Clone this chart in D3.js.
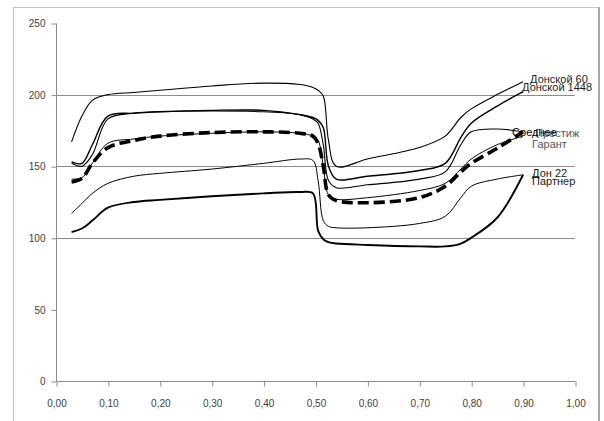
<!DOCTYPE html>
<html>
<head>
<meta charset="utf-8">
<script src="https://cdn.jsdelivr.net/npm/d3@7"></script>
<style>
  body { margin: 0; background: #fff; }
  text { font-family: "Liberation Sans", Arial, sans-serif; }
</style>
</head>
<body>
<svg id="chart" width="604" height="421"></svg>
<script>
// Measurement points along the x axis (shared by every series)
const xValues = [0.03, 0.05, 0.07, 0.10, 0.15, 0.20, 0.30, 0.40, 0.47, 0.495, 0.505,
                 0.515, 0.525, 0.54, 0.60, 0.70, 0.75, 0.78, 0.80, 0.85, 0.90];

// Series values
const donskoy60   = [167, 185, 196, 200, 201.5, 203, 206, 208, 207, 205, 203,
                     199, 168, 150, 155, 163, 171, 184, 190, 200, 209];
const donskoy1448 = [153, 152, 165, 185, 187, 188, 189, 189, 186, 184, 182,
                     177, 150, 141, 143, 147, 152, 170, 180, 192, 202];
const prestige    = [152, 150, 158, 183, 187, 188, 188.5, 188, 186, 183, 180,
                     165, 140, 135, 137, 141, 146, 165, 174, 176, 174];
const garant      = [141, 142, 152, 166, 169, 171, 173, 174, 173, 171, 168,
                     150, 130, 127, 128, 133, 138, 148, 155, 165, 171];
const don22       = [117, 124, 131, 138, 143, 145, 148, 152, 155, 154, 140,
                     112, 108, 107, 107, 110, 115, 128, 136, 141, 144];
const partner     = [104, 106.5, 112, 121, 125, 126.5, 129, 131, 132, 131, 105,
                     99, 97, 96, 95, 94, 94, 96, 100, 114, 144];
const average     = [139, 141.5, 152, 163, 168, 171, 173.5, 174, 173, 171, 166,
                     150, 130, 126, 124.5, 128, 136, 146, 152, 162.5, 174];

const seriesNames = ["Донской 60", "Донской 1448", "Престиж", "Гарант", "Дон 22", "Партнер", "Среднее"];
const seriesValues = [donskoy60, donskoy1448, prestige, garant, don22, partner, average];

// Axis ticks
const yTicks = [0, 50, 100, 150, 200, 250];
const xTicks = [0, 0.1, 0.2, 0.3, 0.4, 0.5, 0.6, 0.7, 0.8, 0.9, 1.0];
const gridValues = [100, 150, 200];

// Line styles per series
const lineStyle = {
  "Донской 60":   { width: 1.1 },
  "Донской 1448": { width: 1.4 },
  "Престиж":      { width: 1.1 },
  "Гарант":       { width: 1.0 },
  "Дон 22":       { width: 1.0 },
  "Партнер":      { width: 1.9 },
  "Среднее":      { width: 3.6, dash: "11,5" }
};
// End-of-line label placement (offset from the last point)
const labelOffset = {
  "Донской 60":   [7, 1],
  "Донской 1448": [-1, -1],
  "Престиж":      [12, 5],
  "Гарант":       [9, 12],
  "Среднее":      [-11, 4],
  "Дон 22":       [9, 2],
  "Партнер":      [9, 10]
};
const labelColor = {
  "Престиж": "#555", "Гарант": "#555", "Среднее": "#000"
};

const svg = d3.select("#chart");

const x = d3.scaleLinear().domain([0, 1]).range([56, 575]);
const y = d3.scaleLinear().domain([0, 250]).range([381, 23]);

// Outer chart frame
svg.append("rect")
  .attr("x", 13.5).attr("y", 7.5)
  .attr("width", 585).attr("height", 430)
  .attr("fill", "none").attr("stroke", "#c4c4c4").attr("stroke-width", 1);
svg.append("line")
  .attr("x1", 599).attr("x2", 599).attr("y1", 7).attr("y2", 421)
  .attr("stroke", "#a8a8a8").attr("stroke-width", 2);

// Horizontal gridlines
svg.append("g").selectAll("line").data(gridValues).join("line")
  .attr("x1", x(0)).attr("x2", x(1))
  .attr("y1", d => Math.round(y(d)) + 0.5).attr("y2", d => Math.round(y(d)) + 0.5)
  .attr("stroke", "#8c8c8c").attr("stroke-width", 1);

// Y axis
const yAxis = d3.axisLeft(y).tickValues(yTicks).tickSize(5).tickPadding(6)
  .tickFormat(d3.format("d"));
const gy = svg.append("g").attr("transform", `translate(${x(0) + 0.5},0.5)`).call(yAxis);

// X axis
const xAxis = d3.axisBottom(x).tickValues(xTicks).tickSize(5).tickPadding(13)
  .tickFormat(d => d.toFixed(2).replace(".", ","));
const gx = svg.append("g").attr("transform", `translate(0.5,${y(0) + 0.5})`).call(xAxis);

[gx, gy].forEach(g => {
  g.select(".domain").attr("stroke", "#8c8c8c");
  g.selectAll(".tick line").attr("stroke", "#8c8c8c");
  g.selectAll(".tick text").attr("fill", "#404040")
    .style("font-family", "'Liberation Sans', Arial, sans-serif").style("font-size", "10px");
});
gx.select(".domain").attr("d", `M${x(0)},0H${x(1)}`);
gy.select(".domain").attr("d", `M0,${y(0)}V${y(250)}`);

// Series lines
const line = d3.line()
  .x((d, i) => x(xValues[i]))
  .y(d => y(d))
  .curve(d3.curveCatmullRom.alpha(0.5));

const series = seriesNames.map((name, k) => ({ name, values: seriesValues[k] }));

svg.append("g").selectAll("path").data(series).join("path")
  .attr("d", d => line(d.values))
  .attr("fill", "none")
  .attr("stroke", "#000")
  .attr("stroke-width", d => lineStyle[d.name].width)
  .attr("stroke-dasharray", d => lineStyle[d.name].dash || null)
  .attr("stroke-linejoin", "round");

// Series name labels at the end of each line
svg.append("g").selectAll("text").data(series).join("text")
  .attr("x", d => x(xValues[xValues.length - 1]) + labelOffset[d.name][0])
  .attr("y", d => y(d.values[d.values.length - 1]) + labelOffset[d.name][1])
  .attr("fill", d => labelColor[d.name] || "#1a1a1a")
  .style("font-size", "11px")
  .text(d => d.name);
</script>
</body>
</html>
